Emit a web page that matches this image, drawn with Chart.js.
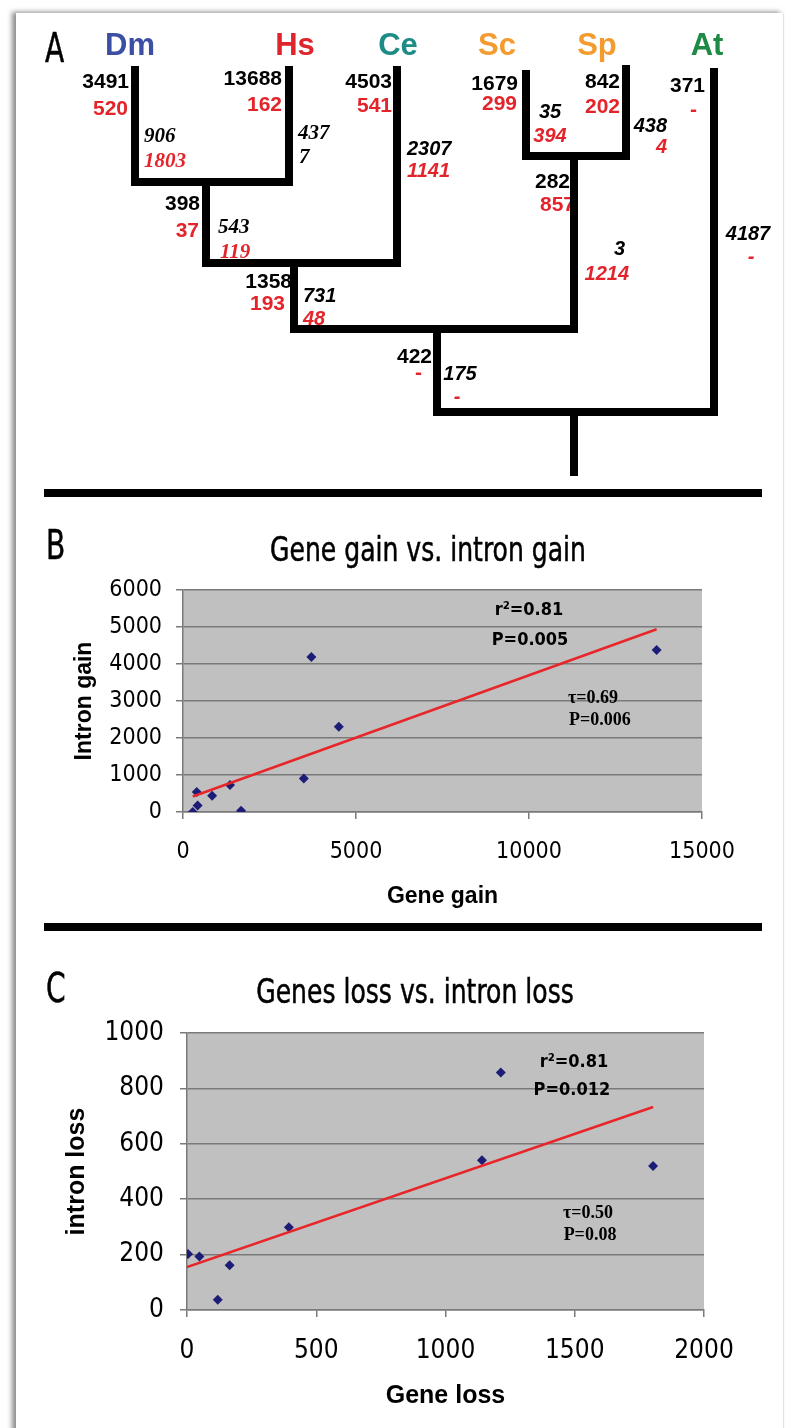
<!DOCTYPE html>
<html>
<head>
<meta charset="utf-8">
<script src="https://cdn.jsdelivr.net/npm/chart.js@4.4.0/dist/chart.umd.min.js"></script>
<style>
  html, body { margin: 0; padding: 0; background: #fff; }
  body { width: 791px; height: 1428px; position: relative; overflow: hidden; }
  .frame { position: absolute; left: 16px; top: 13px; width: 767px; height: 1440px; background: #fff;
           box-shadow: -4px -1px 5px rgba(0,0,0,0.45); border-right: 1px solid #e2e2e2; }
  .rule { position: absolute; left: 44px; width: 718px; height: 8px; background: #000; }
  .cond { position: absolute; font-family: "Liberation Sans Narrow", "DejaVu Sans Condensed", "Arial Narrow", sans-serif;
          color: #000; line-height: 1; white-space: nowrap; -webkit-text-stroke: 0.5px #000; }
  .letter { font-size: 40px; transform: scaleX(0.78); transform-origin: left center; }
  .title { font-size: 34px; transform: translateX(-50%) scaleX(0.82); }
  canvas { position: absolute; left: 0; }
</style>
</head>
<body>
<div class="frame"></div>
<div class="rule" style="top:489px"></div>
<div class="rule" style="top:923px"></div>

<canvas id="treeA" width="791" height="485" style="top:0"></canvas>
<canvas id="chartB" width="791" height="420" style="top:500px"></canvas>
<canvas id="chartC" width="791" height="488" style="top:940px"></canvas>

<div class="cond letter" style="left:45px;top:28px">A</div>
<div class="cond letter" style="left:46px;top:525px">B</div>
<div class="cond letter" style="left:46px;top:968px">C</div>
<div class="cond title" id="titleB" style="left:428px;top:532px"></div>
<div class="cond title" id="titleC" style="left:415px;top:974px"></div>

<script>
// ---------- panel A: gains / losses along each branch ----------
var species    = ['Dm', 'Hs', 'Ce', 'Sc', 'Sp', 'At'];
var branches   = ['Dm', 'Hs', 'Ce', 'Sc', 'Sp', 'At', 'DmHs', 'DmHsCe', 'ScSp', 'Opis'];
var parentOf   = ['DmHs', 'DmHs', 'DmHsCe', 'ScSp', 'ScSp', 'root', 'DmHsCe', 'Opis', 'Opis', 'root'];
var geneGain   = ['3491', '13688', '4503', '1679', '842', '371', '398', '1358', '282', '422'];
var geneLoss   = ['520', '162', '541', '299', '202', '-', '37', '193', '857', '-'];
var intronGain = ['906', '437', '2307', '35', '438', '4187', '543', '731', '3', '175'];
var intronLoss = ['1803', '7', '1141', '394', '4', '-', '119', '48', '1214', '-'];

// ---------- panel B ----------
var titleB      = 'Gene gain vs. intron gain';
var gainGene    = [3491, 13688, 4503, 1679, 842, 3710, 398, 1358, 282, 422];
var gainIntron  = [906, 4377, 2307, 35, 438, 4187, 543, 731, 3, 175];
var gainTrendX  = [282, 13688];
var gainTrendY  = [420, 4940];
var gainTicksX  = [0, 5000, 10000, 15000];
var gainTicksY  = [0, 1000, 2000, 3000, 4000, 5000, 6000];
var gainNotes   = ['r\u00b2=0.81', 'P=0.005', '\u03c4=0.69', 'P=0.006'];

// ---------- panel C ----------
var titleC      = 'Genes loss vs. intron loss';
var lossGene    = [1803, 165, 1141, 394, 4, 119, 48, 1214];
var lossIntron  = [520, 162, 541, 299, 202, 37, 193, 857];
var lossTrendX  = [0, 1803];
var lossTrendY  = [155, 733];
var lossTicksX  = [0, 500, 1000, 1500, 2000];
var lossTicksY  = [0, 200, 400, 600, 800, 1000];
var lossNotes   = ['r\u00b2=0.81', 'P=0.012', '\u03c4=0.50', 'P=0.08'];

// ---------- layout / style ----------
var RED = '#e3242b';
var speciesInk = ['#3d4fa5', '#e0242b', '#1e8c86', '#f39b2e', '#f39b2e', '#1f8a45'];
var speciesAt  = [130, 295, 398, 497, 597, 707];   // x centres, baseline 55
var nodeX = { Dm: 135, Hs: 289, Ce: 397, Sc: 526, Sp: 626, At: 714, DmHs: 206, DmHsCe: 294, ScSp: 574, Opis: 437, root: 574 };
var nodeY = { Dm: 70, Hs: 70, Ce: 70, Sc: 74, Sp: 69, At: 72, DmHs: 182, DmHsCe: 263, ScSp: 156, Opis: 329, root: 412 };
var stemEnd = 472;
// upright labels: [right x of gain, baseline, right x of loss, baseline]
var geneAt = [[129, 88, 128, 115], [282, 85, 282, 111], [392, 88, 392, 112], [518, 90, 517, 110], [620, 88, 620, 113],
              [705, 92, 697, 116], [200, 210, 199, 237], [292, 288, 285, 310], [570, 188, 575, 211], [432, 363, 422, 379]];
// italic labels: [x, baseline, x, baseline]
var intronAt = [[144, 142, 144, 167], [298, 139, 299, 163], [407, 155, 407, 177], [550, 118, 550, 142], [667, 132, 667, 153],
                [748, 240, 751, 263], [218, 233, 220, 258], [303, 302, 303, 325], [625, 255, 629, 280], [460, 380, 457, 403]];
var intronAlign = ['left', 'left', 'left', 'center', 'right', 'center', 'left', 'left', 'right', 'center'];
var intronSerif = [true, true, false, false, false, false, true, false, false, false];
var intronLossInk = [RED, '#000', RED, RED, RED, RED, RED, RED, RED, RED];

var gainNoteAt = [[10000, 5460], [10030, 4650], [11850, 3080], [12050, 2490]];
var lossNoteAt = [[1497, 895], [1489, 794], [1551, 350], [1559, 271]];

var NARROW = '"Liberation Sans Narrow", "DejaVu Sans Condensed", "Arial Narrow", sans-serif';
var SANS = '"Liberation Sans", Arial, sans-serif';
var SERIF = '"Liberation Serif", "Times New Roman", serif';

document.getElementById('titleB').textContent = titleB;
document.getElementById('titleC').textContent = titleC;

// ---------- tree ----------
var segments = [];
branches.forEach(function (b, i) {
    segments.push([{ x: nodeX[b], y: nodeY[b] }, { x: nodeX[b], y: nodeY[parentOf[i]] }]);
});
var parents = ['DmHs', 'DmHsCe', 'ScSp', 'Opis', 'root'];
parents.forEach(function (p) {
    var xs = [];
    parentOf.forEach(function (q, i) { if (q === p) xs.push(nodeX[branches[i]]); });
    segments.push([{ x: Math.min.apply(null, xs), y: nodeY[p] }, { x: Math.max.apply(null, xs), y: nodeY[p] }]);
});
segments.push([{ x: nodeX.root, y: nodeY.root }, { x: nodeX.root, y: stemEnd }]);

var treeLabels = {
    id: 'treeLabels',
    beforeDatasetsDraw: function (chart) {
        var c = chart.ctx, sx = chart.scales.x, sy = chart.scales.y;
        function put(text, x, y, font, color, align) {
            c.font = font; c.fillStyle = color; c.textAlign = align; c.textBaseline = 'alphabetic';
            c.fillText(text, sx.getPixelForValue(x), sy.getPixelForValue(y));
        }
        c.save();
        species.forEach(function (s, i) {
            put(s, speciesAt[i], 55, 'bold 31px ' + SANS, speciesInk[i], 'center');
        });
        branches.forEach(function (b, i) {
            var g = geneAt[i], t = intronAt[i];
            put(geneGain[i], g[0], g[1], 'bold 21px ' + SANS, '#000', 'right');
            put(geneLoss[i], g[2], g[3], 'bold 21px ' + SANS, RED, 'right');
            var f = intronSerif[i] ? 'italic bold 21px ' + SERIF : 'italic bold 20px ' + SANS;
            put(intronGain[i], t[0], t[1], f, '#000', intronAlign[i]);
            put(intronLoss[i], t[2], t[3], f, intronLossInk[i], intronAlign[i]);
        });
        c.restore();
    }
};

new Chart(document.getElementById('treeA'), {
    type: 'scatter',
    data: {
        datasets: segments.map(function (s) {
            return { data: s, showLine: true, borderColor: '#000', borderWidth: 8, borderCapStyle: 'square',
                     pointRadius: 0, fill: false };
        })
    },
    options: {
        responsive: false, animation: false, events: [],
        layout: { padding: 0 },
        plugins: { legend: { display: false }, tooltip: { enabled: false } },
        scales: {
            x: { type: 'linear', min: 0, max: 791, display: false },
            y: { type: 'linear', min: 0, max: 485, reverse: true, display: false }
        }
    },
    plugins: [treeLabels]
});

// ---------- scatter panels ----------
var plotBg = {
    id: 'plotBg',
    beforeDraw: function (chart) {
        var a = chart.chartArea, c = chart.ctx;
        c.save(); c.fillStyle = '#c0c0c0';
        c.fillRect(a.left, a.top, a.right - a.left, a.bottom - a.top);
        c.restore();
    }
};
var notes = {
    id: 'notes',
    afterDatasetsDraw: function (chart, args, opts) {
        var c = chart.ctx, sx = chart.scales.x, sy = chart.scales.y;
        c.save();
        opts.text.forEach(function (t, i) {
            c.font = i < 2 ? 'bold 18px ' + NARROW : 'bold 18px ' + SERIF;
            c.fillStyle = '#000'; c.textAlign = 'center'; c.textBaseline = 'middle';
            c.fillText(t, sx.getPixelForValue(opts.at[i][0]), sy.getPixelForValue(opts.at[i][1]));
        });
        c.restore();
    }
};

function scatterPanel(id, cfg) {
    var pts = cfg.xs.map(function (x, i) { return { x: x, y: cfg.ys[i] }; });
    var trend = cfg.tx.map(function (x, i) { return { x: x, y: cfg.ty[i] }; });
    new Chart(document.getElementById(id), {
        type: 'scatter',
        data: {
            datasets: [
                { data: trend, showLine: true, borderColor: '#e8262a', borderWidth: 2.5, pointRadius: 0, fill: false },
                { data: pts, pointStyle: 'rectRot', pointRadius: 5, backgroundColor: '#1d1d78', borderColor: '#1d1d78', borderWidth: 0 }
            ]
        },
        options: {
            responsive: false, animation: false, events: [],
            layout: { padding: cfg.pad },
            plugins: { legend: { display: false }, tooltip: { enabled: false }, notes: { text: cfg.notes, at: cfg.noteAt } },
            scales: {
                x: {
                    type: 'linear', min: cfg.ticksX[0], max: cfg.ticksX[cfg.ticksX.length - 1],
                    afterBuildTicks: function (s) { s.ticks = cfg.ticksX.map(function (v) { return { value: v }; }); },
                    afterFit: function (s) { s.height = cfg.xh; },
                    ticks: { color: '#000', padding: cfg.xpad, maxRotation: 0, autoSkip: false,
                             font: { family: NARROW, size: cfg.tickSize }, callback: function (v) { return String(v); } },
                    grid: { drawOnChartArea: false, drawTicks: true, tickLength: 7, color: '#7a7a7a', lineWidth: 1.5 },
                    border: { display: true, color: '#7a7a7a', width: 1.5 },
                    title: { display: true, text: cfg.xTitle, color: '#000', padding: { top: 0, bottom: cfg.xtp },
                             font: { family: SANS, size: cfg.titleSize, weight: 'bold' } }
                },
                y: {
                    type: 'linear', min: cfg.ticksY[0], max: cfg.ticksY[cfg.ticksY.length - 1],
                    afterBuildTicks: function (s) { s.ticks = cfg.ticksY.map(function (v) { return { value: v }; }); },
                    afterFit: function (s) { s.width = cfg.yw; },
                    ticks: { color: '#000', padding: cfg.ypad, autoSkip: false,
                             font: { family: NARROW, size: cfg.tickSize }, callback: function (v) { return String(v); } },
                    grid: { drawTicks: true, tickLength: 7, color: '#7a7a7a', lineWidth: 1.5 },
                    border: { display: true, color: '#7a7a7a', width: 1.5 },
                    title: { display: true, text: cfg.yTitle, color: '#000', padding: { top: cfg.ytp, bottom: 0 },
                             font: { family: SANS, size: cfg.titleSize, weight: 'bold' } }
                }
            }
        },
        plugins: [plotBg, notes]
    });
}

scatterPanel('chartB', {
    xs: gainGene, ys: gainIntron, tx: gainTrendX, ty: gainTrendY,
    ticksX: gainTicksX, ticksY: gainTicksY, notes: gainNotes, noteAt: gainNoteAt,
    xTitle: 'Gene gain', yTitle: 'Intron gain',
    pad: { left: 60, right: 89, top: 90, bottom: 8 }, xh: 100, yw: 123,
    xpad: 19, ypad: 14, xtp: 2, ytp: 11, tickSize: 23, titleSize: 23
});

scatterPanel('chartC', {
    xs: lossGene, ys: lossIntron, tx: lossTrendX, ty: lossTrendY,
    ticksX: lossTicksX, ticksY: lossTicksY, notes: lossNotes, noteAt: lossNoteAt,
    xTitle: 'Gene loss', yTitle: 'intron loss',
    pad: { left: 48, right: 87, top: 93, bottom: 17 }, xh: 101, yw: 139,
    xpad: 19, ypad: 16, xtp: 0, ytp: 14, tickSize: 26, titleSize: 25
});
</script>
</body>
</html>
